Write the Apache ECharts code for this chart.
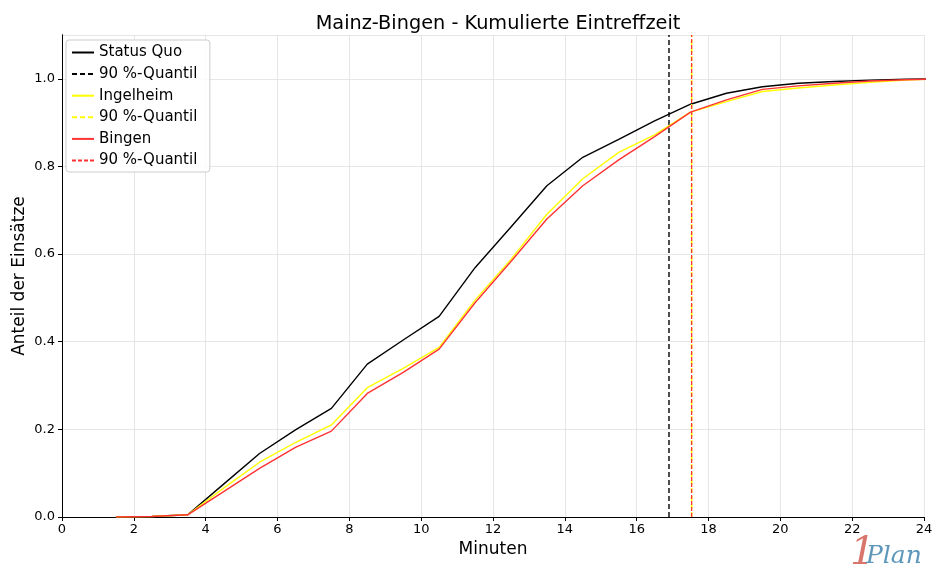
<!DOCTYPE html>
<html><head><meta charset="utf-8">
<script src="https://cdn.jsdelivr.net/npm/echarts@6/dist/echarts.min.js"></script>
<style>html,body{margin:0;padding:0;background:#fff}#c{width:933px;height:581px}</style>
</head><body><div id="c"></div>
<script>
const minutes = [1.5,2.5,3.5,4.5,5.5,6.5,7.5,8.5,9.5,10.5,11.5,12.5,13.5,14.5,15.5,16.5,17.5,18.5,19.5,20.5,21.5,22.5,23.5,24.5];
const statusQuo = [0,0.001,0.005,0.075,0.145,0.199,0.248,0.349,0.404,0.458,0.569,0.662,0.756,0.821,0.862,0.904,0.942,0.967,0.982,0.990,0.994,0.997,0.999,1.0];
const ingelheim = [0,0.001,0.005,0.066,0.125,0.170,0.210,0.295,0.339,0.387,0.495,0.588,0.691,0.772,0.832,0.872,0.924,0.948,0.971,0.979,0.986,0.992,0.997,1.0];
const bingen    = [0,0.001,0.005,0.058,0.111,0.159,0.196,0.282,0.330,0.383,0.489,0.583,0.680,0.756,0.815,0.868,0.924,0.952,0.976,0.984,0.990,0.995,0.998,1.0];
const quantileStatusQuo = 16.9;
const quantileIngelheim = 17.53;
const quantileBingen = 17.53;
const seriesNames = ['Status Quo','90 %-Quantil','Ingelheim','90 %-Quantil ','Bingen','90 %-Quantil  '];
const xTicks = [0,2,4,6,8,10,12,14,16,18,20,22,24];

const pair = (xs, ys) => xs.map((x, i) => [x, ys[i]]);
const vline = q => [[q, 0], [q, 1.1]];

const chart = echarts.init(document.getElementById('c'));
const font = 'DejaVu Sans';
const frameAxis = { axisLine: { show: true, lineStyle: { color: '#000', width: 1 } }, axisTick: { show: false },
  axisLabel: { show: false }, splitLine: { show: false } };
chart.setOption({
  animation: false,
  textStyle: { fontFamily: font },
  title: { text: 'Mainz-Bingen - Kumulierte Eintreffzeit', left: 493, textAlign: 'center', top: 9,
    textStyle: { fontFamily: font, fontSize: 19.3, fontWeight: 'normal', color: '#000' } },
  grid: { left: 62, right: 9, top: 35, bottom: 64, outerBoundsMode: 'none', containLabel: false },
  legend: {
    orient: 'vertical', left: 66, top: 40, itemWidth: 22, itemHeight: 14, itemGap: 6.6,
    padding: [5, 3, 4, 5],
    backgroundColor: 'rgba(255,255,255,0.85)', borderColor: '#ccc', borderWidth: 1, borderRadius: 3,
    itemStyle: { opacity: 0 },
    textStyle: { fontFamily: font, fontSize: 15, color: '#000' },
    data: seriesNames
  },
  xAxis: [{
    type: 'value', min: 0, max: 24, interval: 2,
    name: 'Minuten', nameLocation: 'middle', nameGap: 24, nameMoveOverlap: false,
    nameTextStyle: { fontFamily: font, fontSize: 17, color: '#000' },
    axisLine: { show: true, lineStyle: { color: '#000' } },
    axisTick: { show: true, length: 4, lineStyle: { color: '#000' } },
    axisLabel: { fontFamily: font, fontSize: 13, color: '#000', margin: 6,
      formatter: v => xTicks.includes(v) ? String(v) : '' },
    splitLine: { show: true, lineStyle: { color: '#e0e0e0', width: 0.8 } }
  }, Object.assign({ type: 'value', min: 0, max: 24, position: 'top' }, frameAxis)],
  yAxis: [{
    type: 'value', min: 0, max: 1.1, interval: 0.2,
    name: 'Anteil der Einsätze', nameLocation: 'middle', nameGap: 34, nameMoveOverlap: false,
    nameTextStyle: { fontFamily: font, fontSize: 17, color: '#000' },
    axisLine: { show: true, lineStyle: { color: '#000' } },
    axisTick: { show: true, length: 4, lineStyle: { color: '#000' } },
    axisLabel: { fontFamily: font, fontSize: 13, color: '#000', margin: 7, showMaxLabel: false,
      formatter: v => (v > 1.05 ? '' : v.toFixed(1)) },
    splitLine: { show: true, lineStyle: { color: '#e0e0e0', width: 0.8 } }
  }, Object.assign({ type: 'value', min: 0, max: 1.1, position: 'right' }, frameAxis)],
  series: [
    { name: seriesNames[0], type: 'line', data: pair(minutes, statusQuo), symbol: 'none', clip: true,
      lineStyle: { color: '#000', width: 1.4 }, itemStyle: { color: '#000' } },
    { name: seriesNames[1], type: 'line', data: vline(quantileStatusQuo), symbol: 'none',
      lineStyle: { color: '#000', width: 1.4, type: [5, 3] }, itemStyle: { color: '#000' } },
    { name: seriesNames[2], type: 'line', data: pair(minutes, ingelheim), symbol: 'none', clip: true,
      lineStyle: { color: '#ffff00', width: 1.4 }, itemStyle: { color: '#ffff00' } },
    { name: seriesNames[3], type: 'line', data: vline(quantileIngelheim), symbol: 'none',
      lineStyle: { color: '#ffff00', width: 1.6, type: [5, 3] }, itemStyle: { color: '#ffff00' } },
    { name: seriesNames[4], type: 'line', data: pair(minutes, bingen), symbol: 'none', clip: true,
      lineStyle: { color: '#ff3333', width: 1.4 }, itemStyle: { color: '#ff3333' } },
    { name: seriesNames[5], type: 'line', data: vline(quantileBingen), symbol: 'none',
      lineStyle: { color: '#ff3333', width: 1.3, type: [4, 2] }, itemStyle: { color: '#ff3333' } }
  ],
  graphic: [
    { type: 'text', left: 850, top: 534, style: { text: '1', fontFamily: 'DejaVu Serif', fontStyle: 'italic', fontSize: 40, fill: '#d9766b' } },
    { type: 'text', left: 866, top: 544, style: { text: 'Plan', fontFamily: 'DejaVu Serif', fontStyle: 'italic', fontSize: 25, fill: '#5d97ba' } }
  ]
});
</script></body></html>
